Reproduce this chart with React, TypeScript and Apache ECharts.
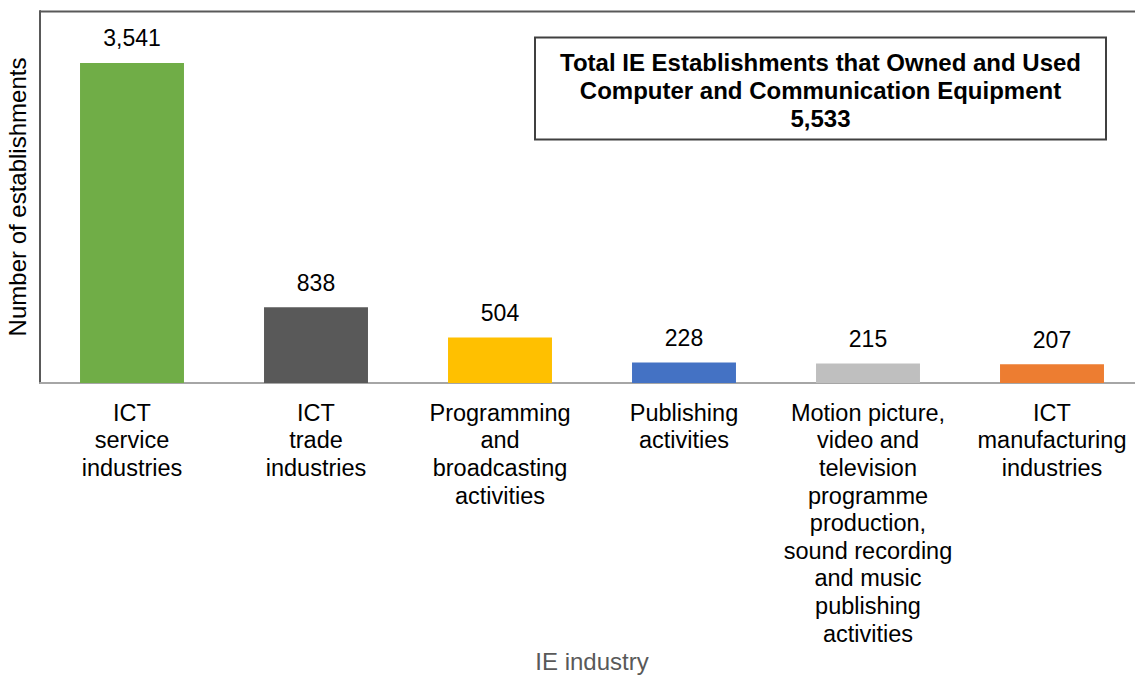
import React, { useEffect, useRef } from "react";
import * as echarts from "echarts";

const categories = [
  "ICT\nservice\nindustries",
  "ICT\ntrade\nindustries",
  "Programming\nand\nbroadcasting\nactivities",
  "Publishing\nactivities",
  "Motion picture,\nvideo and\ntelevision\nprogramme\nproduction,\nsound recording\nand music\npublishing\nactivities",
  "ICT\nmanufacturing\nindustries",
];
const values = [3541, 838, 504, 228, 215, 207];
const barColors = ["#70AD47", "#595959", "#FFC000", "#4472C4", "#BFBFBF", "#ED7D31"];
const boxLines = [
  "Total IE Establishments that Owned and Used",
  "Computer and Communication Equipment",
  "5,533",
];
const yAxisName = "Number of establishments";
const xAxisName = "IE industry";

const FONT = "'Liberation Sans', Arial, sans-serif";

export default function App() {
  const ref = useRef<HTMLDivElement>(null);
  useEffect(() => {
    if (!ref.current) return;
    const chart = echarts.init(ref.current, undefined, { renderer: "svg" });
    chart.setOption({
      animation: false,
      textStyle: { fontFamily: FONT },
      grid: {
        left: 40,
        top: 11,
        width: 1104,
        height: 372,
        containLabel: false,
        outerBoundsMode: "none",
      },
      xAxis: {
        type: "category",
        data: categories,
        name: xAxisName,
        nameLocation: "middle",
        nameGap: 266,
        nameMoveOverlap: false,
        nameTextStyle: { fontSize: 24, color: "#595959", fontFamily: FONT },
        axisLine: { show: true, lineStyle: { color: "#A6A6A6", width: 2 } },
        axisTick: { show: false },
        axisLabel: {
          interval: 0,
          fontSize: 23.5,
          lineHeight: 27.6,
          color: "#000",
          margin: 16,
          fontFamily: FONT,
        },
      },
      yAxis: {
        type: "value",
        min: 0,
        max: 4115,
        name: yAxisName,
        nameLocation: "middle",
        nameGap: 11,
        nameMoveOverlap: false,
        nameTextStyle: { fontSize: 24, color: "#000", fontFamily: FONT },
        axisLine: { show: true, lineStyle: { color: "#595959", width: 2 } },
        axisTick: { show: false },
        axisLabel: { show: false },
        splitLine: { show: false },
      },
      series: [
        {
          type: "bar",
          barCategoryGap: "43.5%",
          data: values.map((v, i) => ({ value: v, itemStyle: { color: barColors[i] } })),
          label: {
            show: true,
            position: "top",
            distance: 13,
            fontSize: 23,
            color: "#000",
            fontFamily: FONT,
            formatter: (p: any) => Number(p.value).toLocaleString("en-US"),
          },
        },
      ],
      graphic: [
        {
          type: "line",
          shape: { x1: 40, y1: 11.5, x2: 1135, y2: 11.5 },
          style: { stroke: "#595959", lineWidth: 2 },
          z: 10,
        },
        {
          type: "rect",
          shape: { x: 535, y: 37.5, width: 571, height: 102 },
          style: { fill: "#fff", stroke: "#404040", lineWidth: 2 },
          z: 10,
        },
        {
          type: "text",
          x: 820.5,
          y: 90,
          z: 11,
          style: {
            text: boxLines.join("\n"),
            fontSize: 24,
            fontWeight: "bold",
            lineHeight: 28,
            fill: "#000",
            fontFamily: FONT,
            textAlign: "center",
            textVerticalAlign: "middle",
          },
        },
      ],
    });
    return () => chart.dispose();
  }, []);
  return (
    <div style={{ position: "absolute", left: 0, top: 0, width: 1135, height: 675, overflow: "hidden", background: "#fff" }}>
      <div ref={ref} style={{ width: 1135, height: 675, overflow: "hidden" }} />
    </div>
  );
}
